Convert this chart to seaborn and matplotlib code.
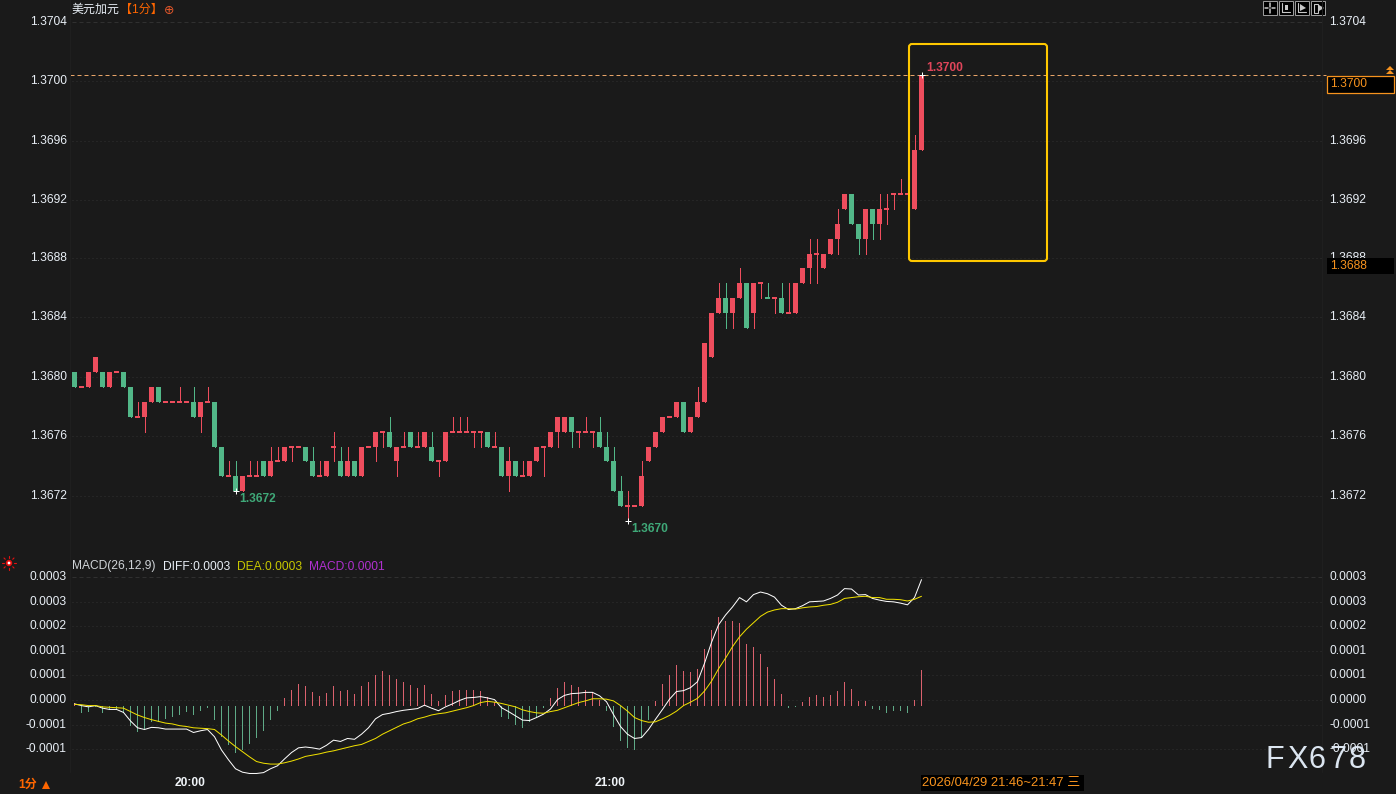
import numpy as np
import pandas as pd
import matplotlib
matplotlib.use('Agg')
import matplotlib.pyplot as plt
from matplotlib.patches import FancyBboxPatch, Rectangle, Circle, Polygon
from matplotlib.transforms import Affine2D
import seaborn as sns

# candles, in pips above 1.3600
open_pips = [80, 79, 79, 80, 80, 79, 80, 80, 79, 77, 77, 78, 79, 78, 78, 78, 78, 78, 77, 78,
             78, 75, 73, 73, 72, 73, 73, 74, 73, 74, 74, 75, 75, 75, 74, 73, 73, 75, 74, 73,
             74, 73, 75, 75, 76, 76, 74, 75, 76, 75, 75, 75, 74, 74, 76, 76, 76, 76, 76, 76,
             75, 75, 73, 74, 73, 73, 74, 75, 75, 76, 76, 77, 76, 76, 76, 76, 75, 74, 72, 71,
             71, 71, 74, 75, 76, 77, 77, 78, 76, 77, 78, 81, 84, 85, 84, 85, 86, 84, 86, 85,
             85, 85, 84, 84, 86, 87, 88, 87, 88, 89, 91, 92, 90, 89, 91, 90, 91, 92, 92, 92,
             91, 95]
close_pips = [79, 79, 80, 81, 79, 80, 80, 79, 77, 77, 78, 79, 78, 78, 78, 78, 78, 77, 78, 78,
              75, 73, 73, 72, 73, 73, 73, 73, 74, 74, 75, 75, 75, 74, 73, 73, 74, 75, 73, 74,
              73, 75, 75, 76, 76, 75, 75, 75, 75, 75, 76, 74, 74, 76, 76, 76, 76, 76, 76, 75,
              75, 73, 74, 73, 73, 74, 75, 75, 76, 77, 77, 76, 76, 76, 76, 75, 74, 72, 71, 71,
              71, 73, 75, 76, 77, 77, 78, 76, 77, 78, 82, 84, 85, 84, 85, 86, 83, 86, 86, 85,
              85, 84, 84, 86, 87, 88, 88, 88, 89, 90, 92, 90, 89, 91, 90, 91, 91, 92, 92, 92,
              95, 100]
high_pips = [80, 79, 80, 81, 80, 80, 80, 80, 79, 78, 78, 79, 79, 78, 78, 79, 78, 79, 78, 79,
             78, 75, 74, 74, 73, 74, 74, 74, 75, 75, 75, 75, 75, 75, 75, 74, 74, 76, 75, 75,
             74, 75, 75, 76, 76, 77, 75, 76, 76, 76, 76, 76, 74, 76, 77, 77, 77, 76, 76, 76,
             76, 75, 75, 74, 74, 74, 75, 75, 76, 77, 77, 77, 76, 77, 76, 77, 76, 75, 73, 72,
             71, 74, 75, 76, 77, 77, 78, 78, 77, 79, 82, 84, 86, 86, 85, 87, 86, 86, 86, 86,
             85, 86, 86, 86, 87, 89, 89, 88, 89, 91, 92, 92, 90, 91, 91, 92, 92, 92, 93, 92,
             96, 100]
low_pips = [79, 79, 79, 80, 79, 79, 80, 79, 77, 77, 76, 78, 78, 78, 78, 78, 78, 77, 76, 78,
            75, 73, 73, 72, 72, 73, 73, 73, 73, 74, 74, 74, 75, 74, 73, 73, 73, 74, 73, 73,
            73, 73, 75, 74, 75, 75, 73, 75, 75, 75, 75, 74, 73, 74, 76, 76, 76, 75, 75, 75,
            75, 73, 72, 73, 73, 73, 74, 73, 75, 75, 76, 75, 75, 76, 75, 75, 74, 72, 71, 70,
            71, 71, 74, 75, 76, 77, 77, 76, 76, 77, 78, 81, 84, 83, 83, 85, 83, 83, 85, 85,
            84, 84, 84, 84, 86, 86, 86, 87, 88, 88, 91, 90, 88, 88, 89, 89, 90, 91, 92, 91,
            91, 95]
green_dojis = [99]

# MACD pane, millionths
diff_line = [5, 1, -2, 1, -5, -8, -8, -15, -35, -51, -55, -50, -51, -54, -54, -54, -54, -62, -58, -55,
             -72, -103, -126, -147, -155, -158, -158, -156, -147, -140, -124, -109, -98, -96, -98, -101, -92, -80, -83, -76,
             -78, -66, -51, -30, -20, -17, -13, -10, -8, -6, 2, -5, -11, -2, 5, 13, 19, 20, 22, 19,
             15, -4, -13, -23, -33, -34, -27, -19, -7, 15, 25, 29, 30, 32, 32, 24, 10, -20, -48, -66,
             -76, -74, -55, -31, -8, 16, 34, 36, 43, 57, 100, 149, 190, 213, 232, 254, 244, 261, 267, 263,
             255, 236, 226, 228, 235, 244, 245, 246, 252, 260, 275, 274, 260, 261, 252, 248, 245, 244, 241, 237,
             254, 296]
dea_line = [4, 3, 1, 1, -2, -3, -4, -5, -13, -21, -27, -32, -36, -40, -42, -46, -48, -51, -52, -53,
            -55, -68, -82, -95, -107, -119, -130, -134, -136, -136, -133, -129, -124, -118, -115, -112, -108, -105, -101, -97,
            -93, -90, -83, -76, -66, -58, -50, -42, -37, -30, -26, -21, -18, -16, -12, -8, -4, 1, 8, 11,
            9, 6, 2, -2, -9, -13, -16, -17, -13, -10, -4, 2, 8, 12, 17, 17, 16, 12, 1, -12,
            -27, -34, -38, -37, -30, -22, -12, 1, 9, 18, 35, 58, 87, 112, 139, 162, 180, 195, 210, 220,
            225, 228, 228, 227, 230, 232, 233, 236, 238, 243, 252, 254, 256, 257, 254, 254, 250, 250, 249, 246,
            250, 257]
macd_bars = [6, -16, -13, -3, -16, -10, -10, -16, -47, -62, -55, -37, -37, -30, -25, -22, -13, -20, -11, -4,
             -33, -72, -91, -109, -102, -89, -74, -58, -33, -12, 19, 37, 52, 47, 33, 23, 30, 47, 35, 37,
             28, 47, 56, 73, 82, 73, 63, 56, 49, 42, 49, 28, 12, 26, 35, 37, 37, 37, 35, 20,
             10, -26, -30, -45, -51, -37, -28, -4, 19, 42, 56, 49, 45, 37, 33, 14, -12, -49, -82, -98,
             -103, -73, -33, 12, 52, 73, 96, 82, 80, 87, 134, 178, 209, 199, 199, 195, 145, 138, 122, 91,
             63, 28, -4, -3, 9, 21, 26, 21, 26, 35, 56, 40, 12, 12, -7, -9, -16, -12, -12, -16,
             14, 84]

price_ticks = [1.37036, 1.36996, 1.36956, 1.36916, 1.36877, 1.36837, 1.36797, 1.36757, 1.36717]
price_labels = ['1.3704', '1.3700', '1.3696', '1.3692', '1.3688', '1.3684', '1.3680', '1.3676', '1.3672']
# on the right the 1.3700 row is covered by the current price box
price_labels_right = ['1.3704', '', '1.3696', '1.3692', '1.3688', '1.3684', '1.3680', '1.3676', '1.3672']
macd_ticks = [301.5e-6, 244e-6, 186.5e-6, 129e-6, 71.5e-6, 14e-6, -43.5e-6, -101e-6]
macd_labels = ['0.0003', '0.0003', '0.0002', '0.0001', '0.0001', '0.0000', '-0.0001', '-0.0001']

RED = '#ee4d5d'
GREEN = '#52b788'
BG = '#1a1a1a'
ORANGE = '#f7931e'
DEEP = '#ff6600'
W, H = 1396, 794

sns.set_style('dark', rc={'figure.facecolor': BG, 'axes.facecolor': BG, 'axes.edgecolor': BG,
                          'text.color': '#e8eef5', 'xtick.color': '#e8eef5', 'ytick.color': '#e8eef5'})
plt.rcParams['font.family'] = ['Liberation Sans', 'Noto Sans CJK SC', 'DejaVu Sans']
FS = 8.64

candles = pd.DataFrame({'i': range(len(open_pips)), 'open': open_pips, 'close': close_pips,
                        'high': high_pips, 'low': low_pips})
for c in ['open', 'close', 'high', 'low']:
    candles[c] = (13600 + candles[c]) / 10000
macd = pd.DataFrame({'i': candles['i'],
                     'diff': np.array(diff_line) * 1e-6,
                     'dea': np.array(dea_line) * 1e-6,
                     'bar': np.array(macd_bars) * 1e-6})
macd['side'] = np.where(macd['bar'] >= 0, 'up', 'down')


def axes_at(top, bottom):
    return fig.add_axes([72 / W, 1 - bottom / H, 1250 / W, (bottom - top) / H])


def style_axes(ax, ticks, labels, right_labels):
    ax.set_xlim((72 - 74.5) / 7, (1322 - 74.5) / 7)
    ax.set_xticks([])
    ax.set_xlabel('')
    ax.set_ylabel('')
    ax.set_yticks(ticks)
    ax.set_yticklabels(labels, fontsize=FS)
    ax.tick_params(axis='y', length=0, pad=3.6)
    ax.grid(axis='y', color='#303030', linestyle=(0, (1, 3)), linewidth=0.72)
    ax.grid(axis='x', visible=False)
    ax.yaxis.get_gridlines()[0].set_linestyle((0, (4, 3)))
    ax.yaxis.get_gridlines()[0].set_color('#303030')
    sns.despine(ax=ax, left=True, bottom=True)
    right = ax.secondary_yaxis('right')
    right.set_yticks(ticks)
    right.set_yticklabels(right_labels, fontsize=FS)
    right.tick_params(axis='y', length=0, pad=5.1)
    right.spines['right'].set_visible(False)
    # labels sit a little above their grid lines
    for tick in ax.yaxis.get_major_ticks():
        tick.label1.set_transform(tick.label1.get_transform() + Affine2D().translate(0, 1.5))
    for tick in right.yaxis.get_major_ticks():
        tick.label2.set_transform(tick.label2.get_transform() + Affine2D().translate(0, 1.5))


fig = plt.figure(figsize=(W / 100, H / 100), dpi=100)

# price pane
ax1 = axes_at(0, 555)
down = candles['close'] < candles['open']
doji = candles['close'] == candles['open']
colors = np.where(down, GREEN, RED)
colors[green_dojis] = GREEN
ax1.vlines(candles['i'], candles['low'], candles['high'], colors=list(colors), linewidth=0.72,
           antialiased=False, zorder=3)
body = candles[~doji]
ax1.bar(body['i'], (body['close'] - body['open']).abs(), bottom=body[['open', 'close']].min(axis=1),
        width=5 / 7, color=list(colors[~doji]), linewidth=0, zorder=4)
dj = candles[doji]
ax1.hlines(dj['close'], dj['i'] - 0.36, dj['i'] + 0.36, colors=list(colors[doji]), linewidth=1.44,
           antialiased=False, zorder=4)
ax1.set_ylim(1.36677, 1.370507)
style_axes(ax1, price_ticks, price_labels, price_labels_right)
ax1.axhline(candles['close'].iloc[-1], xmin=-0.0016, xmax=1.0032, color='#e8a468', linewidth=0.72,
            linestyle=(0, (4, 3)), zorder=2, clip_on=False)

# extreme marks and their labels
ax1.plot([23, 79, 121], [1.3672, 1.3670, 1.3700], linestyle='none', marker='+', color='white',
         markersize=5, markeredgewidth=0.72, zorder=5)
ax1.annotate('1.3672', (23, 1.3672), xytext=(4, -8), textcoords='offset pixels', color='#3fa878',
             fontsize=FS, fontweight='bold', va='center', annotation_clip=False)
ax1.annotate('1.3670', (79, 1.3670), xytext=(4, -8), textcoords='offset pixels', color='#3fa878',
             fontsize=FS, fontweight='bold', va='center')
ax1.annotate('1.3700', (121, 1.3700), xytext=(5, 7), textcoords='offset pixels', color='#e0455a',
             fontsize=FS, fontweight='bold', va='center')

# macd pane
ax2 = axes_at(560, 778)
sns.barplot(data=macd, x='i', y='bar', hue='side', hue_order=['up', 'down'], palette={'up': RED, 'down': GREEN},
            native_scale=True, width=1 / 7, dodge=False, errorbar=None, legend=False, linewidth=0, ax=ax2, zorder=2)
sns.lineplot(data=macd, x='i', y='diff', color='white', linewidth=0.72, ax=ax2, zorder=3)
sns.lineplot(data=macd, x='i', y='dea', color='#f0e000', linewidth=0.72, ax=ax2, zorder=4)
ax2.set_ylim(-168.6e-6, 342e-6)
style_axes(ax2, macd_ticks, macd_labels, macd_labels)

# everything else sits on a pixel overlay
ov = fig.add_axes([0, 0, 1, 1], facecolor='none')
ov.set_xlim(0, W)
ov.set_ylim(H, 0)
ov.axis('off')


def label(x, y, s, color, **kw):
    kw.setdefault('fontsize', FS)
    kw.setdefault('va', 'center')
    ov.text(x, y, s, color=color, **kw)


ov.plot([70, 70], [0, 772], color='#1f1f1f', linewidth=0.72)
ov.plot([1322, 1322], [0, 772], color='#1f1f1f', linewidth=0.72)

label(72, 10, '美元加元', '#e8eef5')
label(120, 10, '【1分】', DEEP)
label(163.5, 10.5, '⊕', '#e0562a', family='DejaVu Sans', fontsize=9)

label(72, 566.5, 'MACD(26,12,9)', '#d0d4d8')
label(162.5, 566.5, 'DIFF:0.0003', '#e8eef5')
label(236.5, 566.5, 'DEA:0.0003', '#c8c800')
label(309, 566.5, 'MACD:0.0001', '#b030d0')

# yellow frame
ov.add_patch(FancyBboxPatch((912, 47), 132, 211, boxstyle='round,pad=3,rounding_size=3',
                            facecolor='none', edgecolor='#ffc800', linewidth=1.5, zorder=6))

# right side price boxes
ov.add_patch(Rectangle((1327, 76), 67, 16.5, facecolor='black', edgecolor=ORANGE, linewidth=0.9, zorder=6))
label(1330, 84, '1.3700', ORANGE, zorder=7)
ov.add_patch(Rectangle((1327, 258), 67, 16, facecolor='black', edgecolor='none', zorder=6))
label(1330, 266, '1.3688', ORANGE, zorder=7)
for top in (66, 70):
    ov.add_patch(Polygon([(1386, top + 4), (1390, top), (1394, top + 4)], closed=True, facecolor=ORANGE, edgecolor='none'))

# toolbar
for x0 in (1263, 1279, 1295, 1311):
    ov.add_patch(Rectangle((x0, 1), 14, 14, facecolor='black', edgecolor='#9a9a9a', linewidth=0.72))
ov.plot([1270, 1270], [3, 7], color='#c8c8c8', linewidth=1.1)
ov.plot([1270, 1270], [9, 13], color='#c8c8c8', linewidth=1.1)
ov.plot([1265, 1268], [8, 8], color='#c8c8c8', linewidth=1.1)
ov.plot([1272, 1275], [8, 8], color='#c8c8c8', linewidth=1.1)
ov.plot([1282, 1282, 1290], [3, 12, 12], color='#c8c8c8', linewidth=0.8)
ov.add_patch(Rectangle((1285, 5), 3, 5, facecolor='#c8c8c8', edgecolor='none'))
ov.plot([1298, 1298, 1306], [3, 12, 12], color='#c8c8c8', linewidth=0.8)
ov.add_patch(Polygon([(1300, 4), (1306, 8), (1300, 11)], closed=True, facecolor='#c8c8c8', edgecolor='none'))
ov.add_patch(Rectangle((1314, 4), 4, 9, facecolor='none', edgecolor='#c8c8c8', linewidth=0.8))
ov.add_patch(Polygon([(1319, 5), (1324, 8), (1319, 11)], closed=True, facecolor='#c8c8c8', edgecolor='none'))

# indicator dot
ov.add_patch(Circle((9, 563), 3.2, facecolor='#e81010', edgecolor='none'))
ov.add_patch(Circle((9, 563), 1.4, facecolor='white', edgecolor='none'))
for dx, dy in [(-7, 0), (7, 0), (0, -7), (0, 7), (-5, -5), (5, -5), (-5, 5), (5, 5)]:
    ov.plot([9 + dx, 9 + dx * 0.75], [563 + dy, 563 + dy * 0.75], color='#e81010', linewidth=0.8)

# time axis
label(174.5, 783, '20:00', '#f0f4f8', fontweight='bold')
label(594.5, 783, '21:00', '#f0f4f8', fontweight='bold')
label(18, 785, '1分', DEEP, fontweight='bold')
ov.add_patch(Polygon([(42, 789), (46, 781), (50, 789)], closed=True, facecolor=DEEP, edgecolor='none'))
ov.add_patch(Rectangle((921, 775), 163, 16, facecolor='black', edgecolor='none'))
label(922.5, 783, '2026/04/29 21:46~21:47 三', ORANGE, fontsize=9.4)

# watermark
for ch, x0 in zip('FX678', (1266, 1287, 1309, 1329, 1348.5)):
    label(x0, 760, ch, '#dbe5f0', fontsize=22)

fig.savefig('out.png', dpi=100, facecolor=BG)
